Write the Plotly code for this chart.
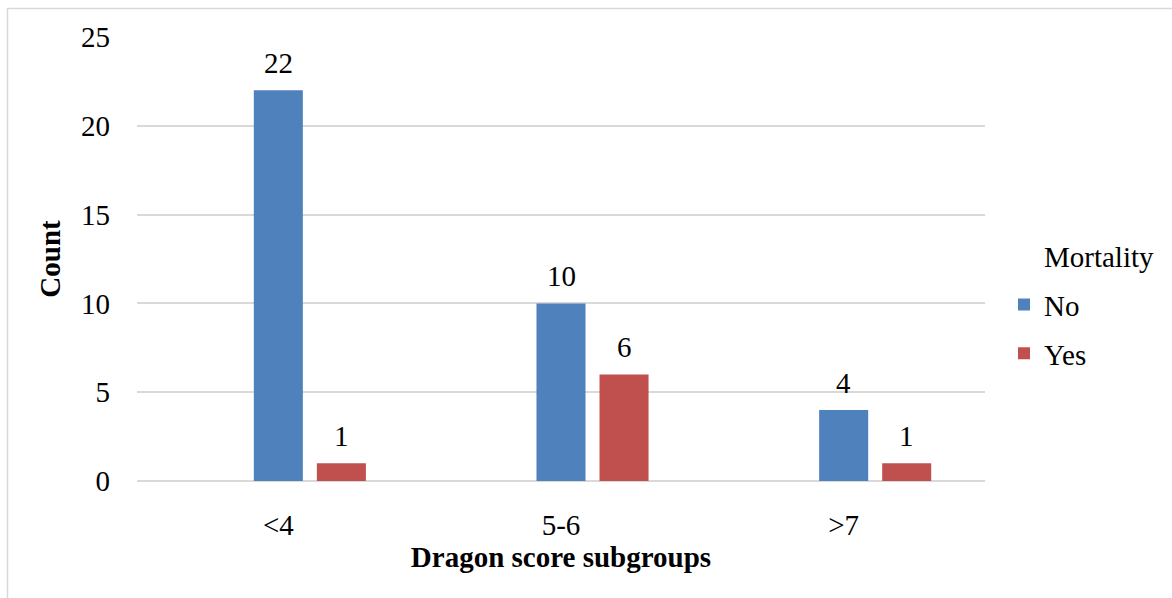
import plotly.graph_objects as go

categories = ["<4", "5-6", ">7"]
no_counts = [22, 10, 4]
yes_counts = [1, 6, 1]
y_ticks = [0, 5, 10, 15, 20, 25]

BLUE = "#4f81bd"
RED = "#c0504d"
GRID = "#d9d9d9"
FONT = "Liberation Serif, Times New Roman, serif"
FS = 29

fig = go.Figure()
# header series: empty slot in each group, shown as the legend heading
fig.add_trace(go.Bar(x=categories, y=[None, None, None], name="Mortality",
                     marker=dict(color="rgba(0,0,0,0)", line=dict(width=0)),
                     legendgroup="h", hoverinfo="skip"))
fig.add_trace(go.Bar(x=categories, y=no_counts, name="No",
                     marker=dict(color=BLUE, line=dict(width=0)), legendgroup="n"))
fig.add_trace(go.Bar(x=categories, y=yes_counts, name="Yes",
                     marker=dict(color=RED, line=dict(width=0)), legendgroup="y"))

annotations = []
for cat, v in zip(categories, no_counts):
    annotations.append(dict(x=cat, y=v, text=str(v), showarrow=False,
                            xref="x", yref="y", yanchor="bottom", xshift=0, yshift=9,
                            font=dict(family=FONT, size=FS, color="black")))
for cat, v in zip(categories, yes_counts):
    annotations.append(dict(x=cat, y=v, text=str(v), showarrow=False,
                            xref="x", yref="y", yanchor="bottom", xshift=63, yshift=9,
                            font=dict(family=FONT, size=FS, color="black")))

W, H = 1172, 598
L, R, T, B = 137, 187, 37, 117
pw, ph = W - L - R, H - T - B

def px_x(p):
    return (p - L) / pw

def px_y(p):
    return (H - B - p) / ph

fig.update_layout(
    width=W, height=H,
    margin=dict(l=L, r=R, t=T, b=B),
    paper_bgcolor="white", plot_bgcolor="white",
    font=dict(family=FONT, size=FS, color="black"),
    barmode="group", bargap=0.331, bargroupgap=0.222,
    showlegend=True,
    legend=dict(x=px_x(1004), xanchor="left", y=px_y(305), yanchor="middle",
                font=dict(family=FONT, size=FS, color="black"),
                tracegroupgap=8, traceorder="grouped", borderwidth=0,
                bgcolor="rgba(0,0,0,0)", itemclick=False),
    xaxis=dict(showgrid=False, showline=False, zeroline=False,
               ticks="", ticklabelstandoff=24,
               title=dict(text="<b>Dragon score subgroups</b>", standoff=3,
                          font=dict(family=FONT, size=FS, color="black"))),
    yaxis=dict(range=[0, 25], tickvals=y_ticks, showgrid=True, gridcolor=GRID,
               gridwidth=1.5, zeroline=True, zerolinecolor=GRID, zerolinewidth=1.5,
               showline=False, ticks="", ticklabelstandoff=26,
               title=dict(text="<b>Count</b>", standoff=11,
                          font=dict(family=FONT, size=FS, color="black"))),
    annotations=annotations,
    shapes=[dict(type="rect", xref="paper", yref="paper",
                 x0=px_x(7.5), x1=px_x(1190), y0=px_y(620), y1=px_y(8.5),
                 line=dict(color=GRID, width=1.5), fillcolor="rgba(0,0,0,0)",
                 layer="below")],
)

fig.write_html("out.html")
